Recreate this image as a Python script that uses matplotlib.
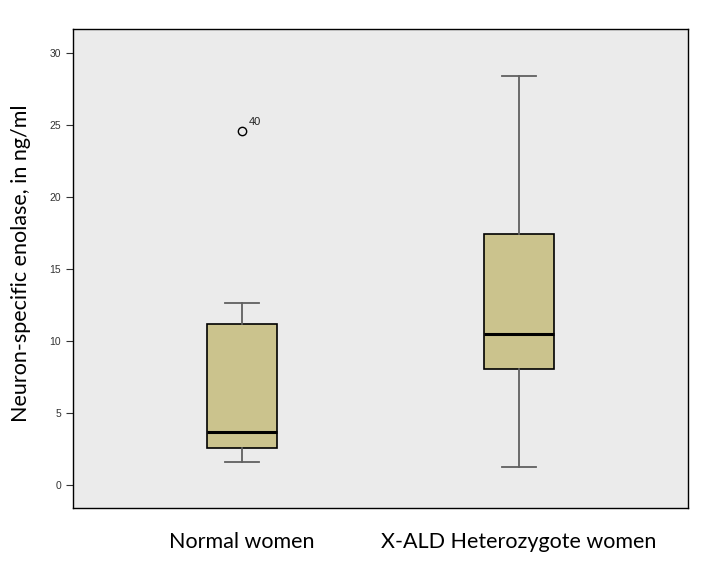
import matplotlib
matplotlib.use("Agg")
import matplotlib.pyplot as plt

# box statistics (ng/ml)
groups   = ["Normal women", "X-ALD Heterozygote women"]
q1       = [2.55, 8.05]
medians  = [3.66, 10.5]
q3       = [11.17, 17.42]
whis_lo  = [1.58, 1.25]
whis_hi  = [12.67, 28.4]
fliers   = [[24.62], []]
flier_ids = [["40"], []]

yticks = [0, 5, 10, 15, 20, 25, 30]

stats = []
for i, g in enumerate(groups):
    stats.append({"label": g, "q1": q1[i], "med": medians[i], "q3": q3[i],
                  "whislo": whis_lo[i], "whishi": whis_hi[i],
                  "fliers": fliers[i]})

fig = plt.figure(figsize=(7.2, 5.87), dpi=100)
ax = fig.add_axes([0.1014, 0.1346, 0.8542, 0.816])
ax.set_facecolor("#ebebeb")

ax.bxp(stats, positions=[1, 2], widths=0.25, patch_artist=True,
       boxprops=dict(facecolor="#cbc38d", edgecolor="black", linewidth=1.2),
       medianprops=dict(color="black", linewidth=2.2),
       whiskerprops=dict(color="#606060", linewidth=1.3),
       capprops=dict(color="#606060", linewidth=1.3),
       capwidths=0.125,
       flierprops=dict(marker="o", markersize=6, markerfacecolor="none",
                       markeredgecolor="black", markeredgewidth=1.0))

# case number next to each outlier
for i, ids in enumerate(flier_ids):
    for v, lab in zip(fliers[i], ids):
        ax.annotate(lab, (i + 1, v), xytext=(5, 4), textcoords="offset points",
                    fontsize=8, color="#222222", family="Liberation Sans")

ax.set_xlim(0.39, 2.61)
ax.set_ylim(-1.6, 31.69)
ax.set_yticks(yticks)
ax.set_yticklabels([str(t) for t in yticks], fontsize=7.5, color="#333333",
                   family="Liberation Sans")
ax.tick_params(axis="y", direction="out", length=5, width=0.8, color="#333333")
ax.tick_params(axis="x", length=0, pad=17)
ax.set_xticklabels(groups, fontsize=15.5, family="Lato")
ax.set_ylabel("Neuron-specific enolase, in ng/ml", fontsize=15.5,
              family="Lato")
ax.yaxis.set_label_coords(-0.068, 0.51)

for s in ax.spines.values():
    s.set_linewidth(1.0)
    s.set_color("black")

fig.savefig("out.png", dpi=100)
